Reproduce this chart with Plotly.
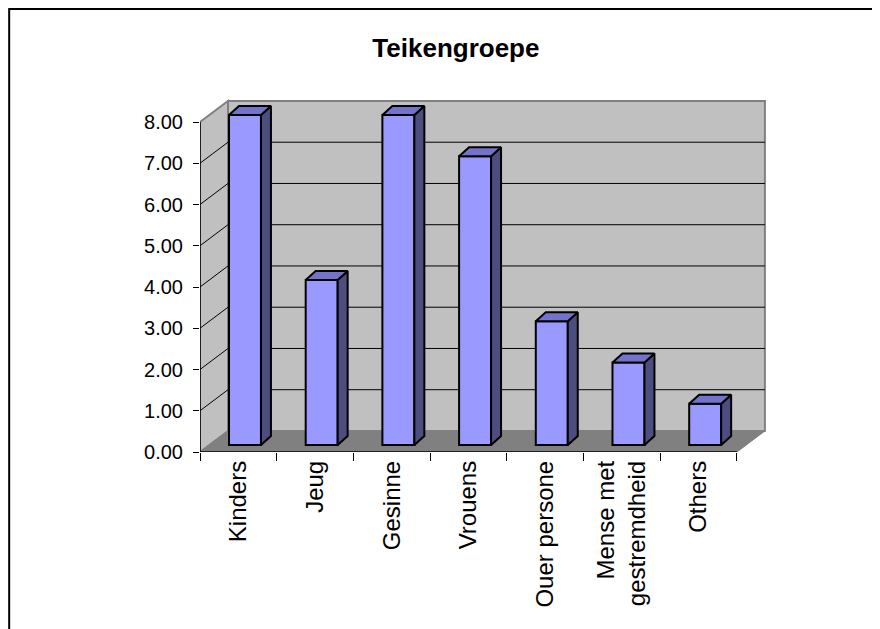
import plotly.graph_objects as go

# Data
categories = ["Kinders", "Jeug", "Gesinne", "Vrouens", "Ouer persone",
              "Mense met<br>gestremdheid", "Others"]
values = [8, 4, 8, 7, 3, 2, 1]
y_ticks = [0, 1, 2, 3, 4, 5, 6, 7, 8]

# 3D look: depth of floor/walls and bar geometry (axis units)
n = len(categories)
ymax = max(y_ticks)
DX, DY = 0.365, 0.51          # floor depth
OX, OY = 0.122, 0.17          # bar front plane offset
BAR_L, BAR_W = 0.256, 0.417   # bar left inside category, bar width
SX, SY = 0.13, 0.218          # bar depth

FONT = "Liberation Sans, Arial, sans-serif"
shapes = []

# Left wall, back wall and floor
shapes.append(dict(type="path", xref="x", yref="y", layer="below",
                   path=f"M0,0 L{DX},{DY} L{DX},{ymax + DY} L0,{ymax} Z",
                   fillcolor="#c0c0c0", line=dict(color="#808080", width=2)))
shapes.append(dict(type="path", xref="x", yref="y", layer="below",
                   path=f"M{DX},{DY} L{n + DX},{DY} L{n + DX},{ymax + DY} L{DX},{ymax + DY} Z",
                   fillcolor="#c0c0c0", line=dict(color="#808080", width=2)))
shapes.append(dict(type="path", xref="x", yref="y", layer="below",
                   path=f"M0,0 L{n},0 L{n + DX},{DY} L{DX},{DY} Z",
                   fillcolor="#808080", line=dict(color="#808080", width=1)))

# Gridlines on the walls
for k in y_ticks[1:-1]:
    shapes.append(dict(type="line", xref="x", yref="y", layer="below",
                       x0=DX, y0=k + DY, x1=n + DX, y1=k + DY,
                       line=dict(color="black", width=1)))
    shapes.append(dict(type="line", xref="x", yref="y", layer="below",
                       x0=0, y0=k, x1=DX, y1=k + DY,
                       line=dict(color="black", width=1)))

# Outer chart border (page has an 8px body margin)
shapes.append(dict(type="rect", xref="paper", yref="paper",
                   x0=-0.329, x1=1.2, y0=-0.6, y1=1.2238,
                   line=dict(color="black", width=2), fillcolor="rgba(0,0,0,0)"))

fig = go.Figure()

# Front faces of the bars
bar_x = [i + BAR_L + OX + BAR_W / 2 for i in range(n)]
fig.add_trace(go.Bar(
    x=bar_x, y=values, base=OY, width=BAR_W,
    marker=dict(color="#9999ff", line=dict(color="black", width=2)),
    hoverinfo="skip", showlegend=False,
))

# Side and top faces
for i, v in enumerate(values):
    x0 = i + BAR_L + OX
    x1 = x0 + BAR_W
    top = v + OY
    fig.add_trace(go.Scatter(
        x=[x1, x1 + SX, x1 + SX, x1, x1], y=[OY, OY + SY, top + SY, top, OY],
        mode="lines", fill="toself", fillcolor="#4d4d80",
        line=dict(color="black", width=2), hoverinfo="skip", showlegend=False,
    ))
    fig.add_trace(go.Scatter(
        x=[x0, x1, x1 + SX, x0 + SX, x0], y=[top, top, top + SY, top + SY, top],
        mode="lines", fill="toself", fillcolor="#7373cc",
        line=dict(color="black", width=2), hoverinfo="skip", showlegend=False,
    ))

# Front axis lines
fig.add_trace(go.Scatter(x=[0, 0, n], y=[ymax, 0, 0], mode="lines",
                         line=dict(color="black", width=1.5),
                         hoverinfo="skip", showlegend=False))

fig.update_layout(
    width=880, height=629,
    margin=dict(l=192, r=108, t=82, b=185),
    plot_bgcolor="white", paper_bgcolor="white",
    shapes=shapes,
    font=dict(family=FONT, color="black"),
    title=dict(text="<b>Teikengroepe</b>", x=0.509, xref="container",
               y=0.936, yref="container", xanchor="center", yanchor="middle",
               font=dict(size=26, family=FONT, color="black")),
    xaxis=dict(
        range=[0, 580 / 76.7], showgrid=False, zeroline=False, showline=False,
        tickmode="array", tickvals=[i + 0.5 for i in range(n)],
        ticktext=categories, ticks="", tickangle=-90,
        tickfont=dict(size=24), ticklabelstandoff=3,
        minor=dict(tickmode="array", tickvals=list(range(n + 1)),
                   ticks="outside", ticklen=8, tickcolor="black",
                   tickwidth=1, showgrid=False),
    ),
    yaxis=dict(
        range=[0, 362 / 41.25], showgrid=False, zeroline=False, showline=False,
        tickmode="array", tickvals=y_ticks,
        ticktext=[f"{t:.2f}" for t in y_ticks],
        ticks="outside", ticklen=6, tickcolor="black", tickwidth=1,
        tickfont=dict(size=20), ticklabelstandoff=6,
    ),
)

fig.write_html("out.html")
